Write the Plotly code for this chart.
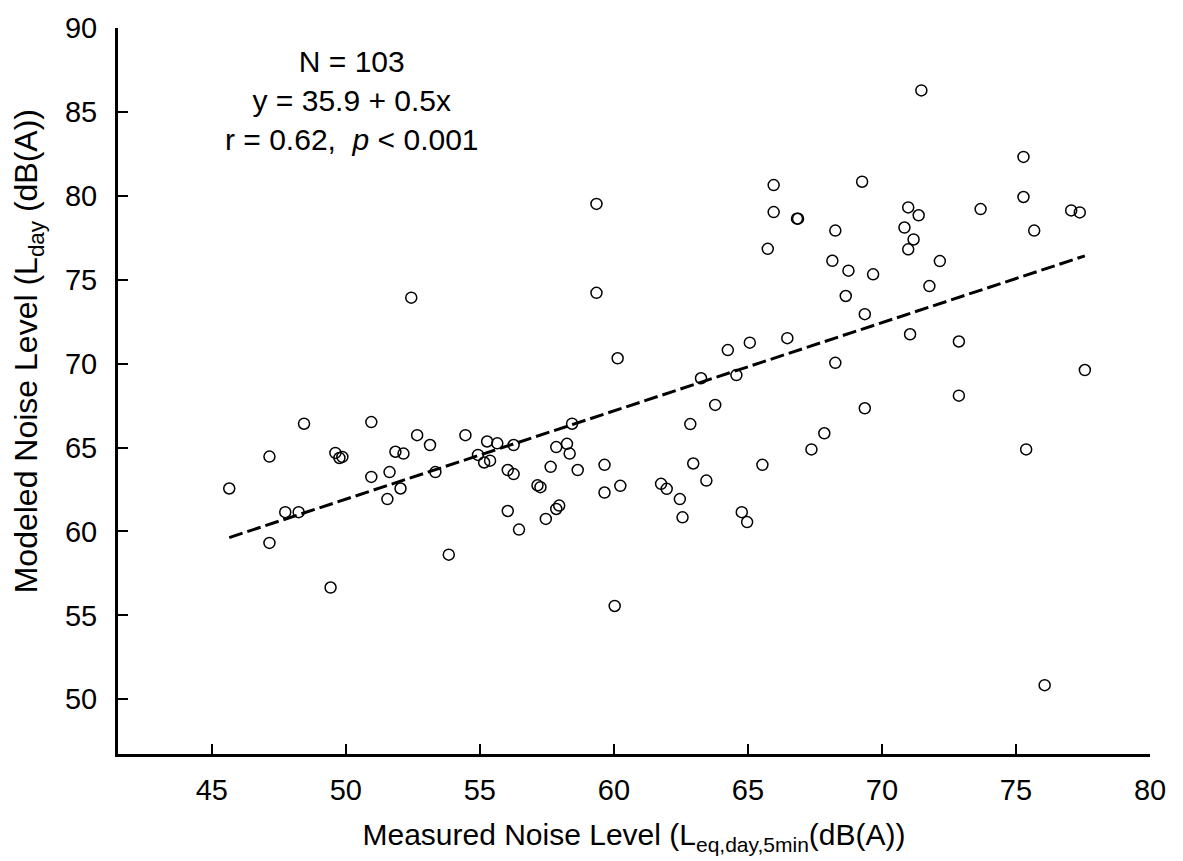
import numpy as np
import plotly.graph_objects as go

measured = [45.65, 47.15, 47.15, 47.74, 48.24, 48.44, 49.43, 49.61, 49.76, 49.87,
            50.95, 50.95, 51.55, 51.63, 51.85, 52.04, 52.15, 52.44, 52.66, 53.14,
            53.34, 53.84, 54.46, 54.93, 55.16, 55.27, 55.38, 55.65, 56.04, 56.04,
            56.26, 56.26, 56.46, 57.15, 57.26, 57.46, 57.64, 57.85, 57.85, 57.96,
            58.25, 58.35, 58.44, 58.65, 59.35, 59.35, 59.65, 59.65, 60.03, 60.14,
            60.24, 61.76, 61.97, 62.46, 62.56, 62.85, 62.96, 63.25, 63.45, 63.78,
            64.25, 64.57, 64.77, 64.97, 65.07, 65.54, 65.74, 65.96, 65.96, 66.47,
            66.87, 66.83, 67.37, 67.85, 68.15, 68.26, 68.26, 68.65, 68.75, 69.26,
            69.36, 69.36, 69.67, 70.84, 70.98, 70.98, 71.05, 71.18, 71.37, 71.47,
            71.77, 72.16, 72.87, 72.87, 73.68, 75.28, 75.28, 75.38, 75.68, 76.07,
            77.06, 77.38, 77.57]

modeled = [62.56, 64.46, 59.32, 61.15, 61.15, 66.42, 56.66, 64.68, 64.38, 64.44,
           66.52, 63.25, 61.93, 63.54, 64.75, 62.56, 64.64, 73.93, 65.74, 65.15,
           63.54, 58.62, 65.74, 64.56, 64.11, 65.36, 64.22, 65.25, 63.66, 61.22,
           65.15, 63.42, 60.11, 62.75, 62.64, 60.75, 63.85, 65.03, 61.34, 61.54,
           65.22, 64.64, 66.42, 63.66, 79.52, 74.22, 63.97, 62.32, 55.56, 70.32,
           62.72, 62.84, 62.54, 61.93, 60.84, 66.40, 64.05, 69.13, 63.03, 67.54,
           70.81, 69.32, 61.15, 60.56, 71.25, 63.97, 76.84, 80.64, 79.03, 71.52,
           78.64, 78.64, 64.89, 65.85, 76.13, 77.93, 70.05, 74.03, 75.54, 80.84,
           72.95, 67.34, 75.32, 78.11, 79.31, 76.81, 71.75, 77.40, 78.84, 86.28,
           74.62, 76.11, 71.32, 68.09, 79.21, 82.32, 79.93, 64.89, 77.93, 50.84,
           79.13, 79.01, 69.62]

x_ticks = [45, 50, 55, 60, 65, 70, 75, 80]
y_ticks = [50, 55, 60, 65, 70, 75, 80, 85, 90]

stats_lines = ["N = 103", "y = 35.9 + 0.5x", "r = 0.62,  <i>p</i> < 0.001"]
x_title = "Measured Noise Level (L<sub>eq,day,5min</sub>(dB(A))"
y_title = "Modeled Noise Level (L<sub>day</sub> (dB(A))"

mx = np.array(measured)
my = np.array(modeled)
slope, intercept = np.polyfit(mx, my, 1)
fit_x = np.array([mx.min(), mx.max()])
fit_y = intercept + slope * fit_x

FONT = "Liberation Sans, Arial, sans-serif"

fig = go.Figure()
fig.add_trace(go.Scatter(
    x=fit_x, y=fit_y, mode="lines",
    line=dict(color="black", width=3, dash="14px,5px"),
    showlegend=False, hoverinfo="skip"))
fig.add_trace(go.Scatter(
    x=measured, y=modeled, mode="markers",
    marker=dict(symbol="circle-open", size=11, color="black",
                line=dict(color="black", width=1.5)),
    showlegend=False))

fig.add_annotation(
    x=0.2265, y=0.9, xref="paper", yref="paper",
    text="<br>".join(stats_lines), showarrow=False,
    align="center", xanchor="center", yanchor="middle",
    font=dict(family=FONT, size=30, color="black"))

# y-axis title placed as rotated text
fig.add_annotation(
    x=-0.087, y=0.555, xref="paper", yref="paper",
    text=y_title, showarrow=False, textangle=-90,
    xanchor="center", yanchor="middle",
    font=dict(family=FONT, size=32, color="black"))

fig.update_layout(
    width=1183, height=861,
    margin=dict(l=118, r=33, t=18, b=107),
    paper_bgcolor="white", plot_bgcolor="white",
    font=dict(family=FONT, size=29, color="black"),
    xaxis=dict(
        range=[41.5, 80], tickvals=x_ticks, ticks="inside", ticklen=10,
        tickwidth=2, tickcolor="black", showline=True, linewidth=3,
        linecolor="black", showgrid=False, zeroline=False,
        ticklabelstandoff=8,
        tickfont=dict(family=FONT, size=29),
        title=dict(text=x_title, font=dict(family=FONT, size=30), standoff=20)),
    yaxis=dict(
        range=[46.74, 90], tickvals=y_ticks, ticks="inside", ticklen=10,
        tickwidth=2, tickcolor="black", showline=True, linewidth=3,
        linecolor="black", showgrid=False, zeroline=False,
        ticklabelstandoff=12,
        tickfont=dict(family=FONT, size=29)),
)

fig.write_html("out.html")
